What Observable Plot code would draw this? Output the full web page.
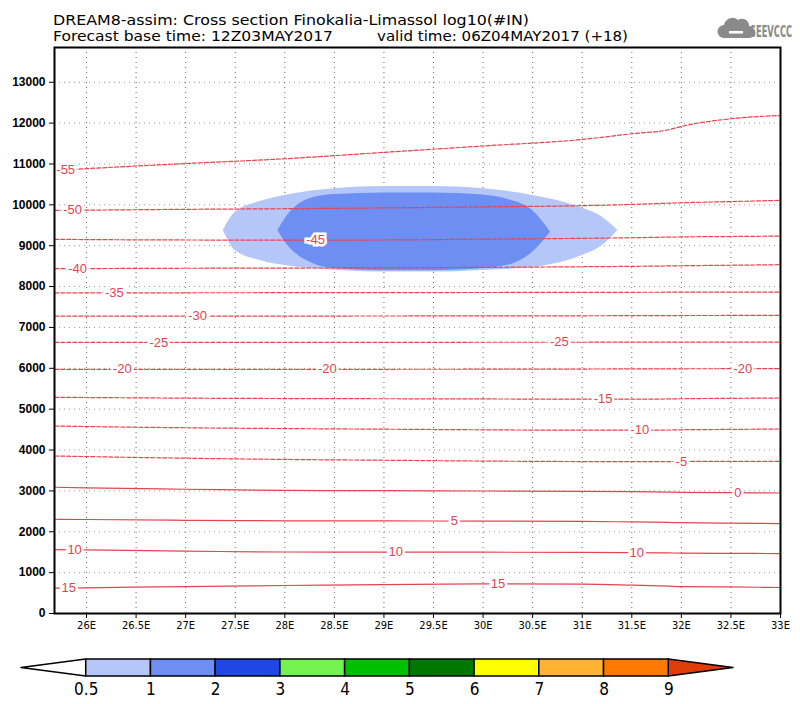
<!DOCTYPE html>
<html>
<head>
<meta charset="utf-8">
<script src="https://cdn.jsdelivr.net/npm/d3@7"></script>
<script src="https://cdn.jsdelivr.net/npm/@observablehq/plot@0.6"></script>
<style>
  html, body { margin: 0; padding: 0; background: #fff; }
  body { width: 800px; height: 704px; position: relative; overflow: hidden; font-family: "Liberation Sans", Arial, sans-serif; }
  #header { position: absolute; left: 0; top: 0; }
  #main { position: absolute; left: 0; top: 46px; }
  #cbar { position: absolute; left: 0; top: 645px; }
</style>
</head>
<body>
<svg id="header" width="800" height="46" xmlns="http://www.w3.org/2000/svg">
  <g font-family="DejaVu Sans, sans-serif" font-size="13.5" fill="#000">
    <text x="53" y="25" textLength="476" lengthAdjust="spacingAndGlyphs">DREAM8-assim: Cross section Finokalia-Limassol log10(#IN)</text>
    <text x="53" y="41" textLength="280" lengthAdjust="spacingAndGlyphs">Forecast base time: 12Z03MAY2017</text>
    <text x="377" y="41" textLength="251" lengthAdjust="spacingAndGlyphs">valid time: 06Z04MAY2017 (+18)</text>
  </g>
  <g fill="#8a8a8a">
    <path d="M724,38 h25 a6,6 0 0 0 0,-12 a7,7 0 0 0 -11,-6 a8.5,8.5 0 0 0 -14,5 a6.5,6.5 0 0 0 0,13 z"/>
    <rect x="729" y="31" width="14" height="2.5" fill="#fff"/>
    <g transform="translate(750,37) scale(0.52,1)">
      <text x="0" y="0" font-family="DejaVu Sans, sans-serif" font-weight="bold" font-size="16">SEEVCCC</text>
    </g>
  </g>
</svg>
<div id="main"></div>
<div id="cbar"></div>
<script>
// ---------- data ----------
const xTicks = [26, 26.5, 27, 27.5, 28, 28.5, 29, 29.5, 30, 30.5, 31, 31.5, 32, 32.5, 33];
const yTicks = [0, 1000, 2000, 3000, 4000, 5000, 6000, 7000, 8000, 9000, 10000, 11000, 12000, 13000];

// isotherm (temperature, degC) contour altitudes (m) along the cross-section
const contourLon = [25.68, 26, 27, 28, 29, 30, 31, 31.5, 31.87, 32, 32.5, 33];
const isoLevels = [-55, -50, -45, -40, -35, -30, -25, -20, -15, -10, -5, 0, 5, 10, 15];
const isoAlt = [
  [10841, 10885, 11010, 11128, 11284, 11440, 11600, 11739, 11837, 11918, 12106, 12186],
  [9864, 9870, 9890, 9905, 9925, 9950, 9980, 10010, 10040, 10050, 10080, 10110],
  [9156, 9150, 9140, 9135, 9140, 9160, 9180, 9195, 9210, 9215, 9225, 9235],
  [8437, 8440, 8448, 8452, 8460, 8470, 8485, 8495, 8505, 8510, 8522, 8535],
  [7846, 7847, 7848, 7850, 7852, 7855, 7858, 7860, 7862, 7863, 7864, 7865],
  [7278, 7278, 7278, 7278, 7280, 7282, 7285, 7288, 7290, 7291, 7293, 7295],
  [6635, 6635, 6635, 6635, 6636, 6637, 6638, 6639, 6640, 6640, 6641, 6642],
  [5975, 5975, 5975, 5975, 5976, 5978, 5982, 5985, 5987, 5988, 5990, 5992],
  [5290, 5285, 5270, 5260, 5255, 5250, 5245, 5245, 5250, 5255, 5265, 5273],
  [4588, 4575, 4545, 4525, 4510, 4495, 4485, 4485, 4490, 4495, 4505, 4515],
  [3854, 3840, 3800, 3770, 3750, 3730, 3718, 3715, 3718, 3720, 3722, 3725],
  [3089, 3075, 3040, 3012, 3005, 2998, 2990, 2980, 2970, 2965, 2957, 2949],
  [2306, 2300, 2280, 2268, 2265, 2262, 2255, 2240, 2228, 2222, 2210, 2201],
  [1565, 1555, 1525, 1505, 1502, 1500, 1497, 1490, 1482, 1478, 1472, 1467],
  [619, 628, 660, 685, 705, 725, 720, 695, 670, 660, 650, 636]
];

// contour labels: level and longitude where the label sits
const labelLevels = [-55, -50, -45, -40, -35, -30, -25, -25, -20, -20, -20, -15, -10, -5, 0, 5, 10, 10, 10, 15, 15];
const labelLons   = [25.79, 25.86, 28.31, 25.91, 26.28, 27.12, 26.73, 30.77, 26.36, 28.43, 32.62, 31.21, 31.58, 32.0, 32.57, 29.71, 25.88, 29.12, 31.55, 25.82, 30.15];

// log10(#IN) shaded regions: 0.5-1 (outer) and 1-2 (inner)
const outerLon = [27.38, 27.5, 27.75, 28, 28.5, 29, 29.5, 30, 30.5, 31, 31.2, 31.36];
const outerTop = [9374, 9820, 10080, 10230, 10394, 10450, 10450, 10394, 10230, 9920, 9700, 9374];
const outerBot = [9374, 8880, 8640, 8518, 8400, 8355, 8355, 8396, 8470, 8763, 9000, 9374];
const innerLon = [27.93, 28.0, 28.25, 28.5, 29, 29.5, 30, 30.25, 30.5, 30.68];
const innerTop = [9374, 9650, 10150, 10250, 10290, 10290, 10240, 10130, 9860, 9330];
const innerBot = [9374, 9100, 8600, 8440, 8390, 8390, 8440, 8520, 8840, 9330];

// colour bar
const cbarLabels = ["0.5", "1", "2", "3", "4", "5", "6", "7", "8", "9"];
const cbarColors = ["#b4c7f8", "#6d8ff4", "#1f47e5", "#74f24f", "#00bf00", "#007700", "#ffff00", "#ffb431", "#ff7a00"];
const underColor = "#ffffff";
const overColor = "#e03d0b";

// ---------- derived tables ----------
const contourData = isoLevels.flatMap((lev, i) => contourLon.map((lon, j) => ({level: lev, lon, alt: isoAlt[i][j]})));
const labelData = labelLevels.map((lev, k) => {
  const i = isoLevels.indexOf(lev);
  const f = d3.scaleLinear(contourLon, isoAlt[i]);
  return {lon: labelLons[k], alt: f(labelLons[k]), text: String(lev)};
});
const outerData = outerLon.map((lon, i) => ({lon, top: outerTop[i], bot: outerBot[i]}));
const innerData = innerLon.map((lon, i) => ({lon, top: innerTop[i], bot: innerBot[i]}));

const red = "#e5434f";

const main = Plot.plot({
  width: 800,
  height: 594,
  marginTop: 1,
  marginBottom: 27,
  marginLeft: 54,
  marginRight: 20,
  style: {fontFamily: "Liberation Sans, Arial, sans-serif", background: "white", overflow: "visible"},
  x: {domain: [25.677, 33], label: null},
  y: {domain: [0, 13850], label: null},
  marks: [
    Plot.ruleY(yTicks.slice(1), {stroke: "#9a9a9a", strokeDasharray: "1,4", strokeWidth: 1}),
    Plot.ruleX(xTicks.slice(0, -1), {stroke: "#666", strokeDasharray: "1,4", strokeWidth: 1}),
    Plot.areaY(outerData, {x: "lon", y1: "bot", y2: "top", fill: cbarColors[0], curve: "monotone-x"}),
    Plot.areaY(innerData, {x: "lon", y1: "bot", y2: "top", fill: cbarColors[1], curve: "monotone-x"}),
    Plot.line(contourData.filter(d => d.level < 0), {x: "lon", y: "alt", z: "level", stroke: red, strokeWidth: 1.2, strokeDasharray: "4,2", curve: "monotone-x"}),
    Plot.line(contourData.filter(d => d.level >= 0), {x: "lon", y: "alt", z: "level", stroke: red, strokeWidth: 1.2, curve: "monotone-x"}),
    Plot.text(labelData, {x: "lon", y: "alt", text: "text", fill: red, stroke: "white", strokeWidth: 5, strokeLinejoin: "miter", fontSize: 13}),
    Plot.axisY({ticks: yTicks, tickFormat: d => String(d), tickSize: 5, tickPadding: 4, fontSize: 12, fontWeight: "bold", label: null, stroke: "black", fill: "black"}),
    Plot.axisX({ticks: xTicks, tickFormat: d => d + "E", tickSize: 5, tickPadding: 3, fontSize: 11, label: null, fontFamily: "Liberation Sans Narrow, DejaVu Sans Condensed, sans-serif", fill: "black"}),
    Plot.frame({stroke: "black", strokeWidth: 2})
  ]
});
document.getElementById("main").appendChild(main);

const cbarRects = cbarColors.map((c, i) => ({i, c}));
const cbar = Plot.plot({
  width: 800,
  height: 59,
  marginTop: 14,
  marginBottom: 28,
  marginLeft: 21,
  marginRight: 67,
  style: {fontFamily: "Liberation Sans Narrow, DejaVu Sans Condensed, sans-serif", background: "white", overflow: "visible"},
  x: {domain: [-1, 10], axis: null},
  y: {domain: [0, 1], axis: null},
  color: {type: "identity"},
  marks: [
    Plot.areaY([{x: -1, y1: 0.5, y2: 0.5}, {x: 0, y1: 0, y2: 1}], {x: "x", y1: "y1", y2: "y2", fill: underColor, stroke: "black", strokeWidth: 1.5}),
    Plot.areaY([{x: 9, y1: 0, y2: 1}, {x: 10, y1: 0.5, y2: 0.5}], {x: "x", y1: "y1", y2: "y2", fill: overColor, stroke: "black", strokeWidth: 1.5}),
    Plot.rect(cbarRects, {x1: d => d.i, x2: d => d.i + 1, y1: 0, y2: 1, fill: d => d.c, stroke: "black", strokeWidth: 1.5}),
    Plot.text(cbarLabels, {x: (d, i) => i, y: 0, text: d => d, dy: 13, fontSize: 17, fill: "black"})
  ]
});
document.getElementById("cbar").appendChild(cbar);
</script>
</body>
</html>
